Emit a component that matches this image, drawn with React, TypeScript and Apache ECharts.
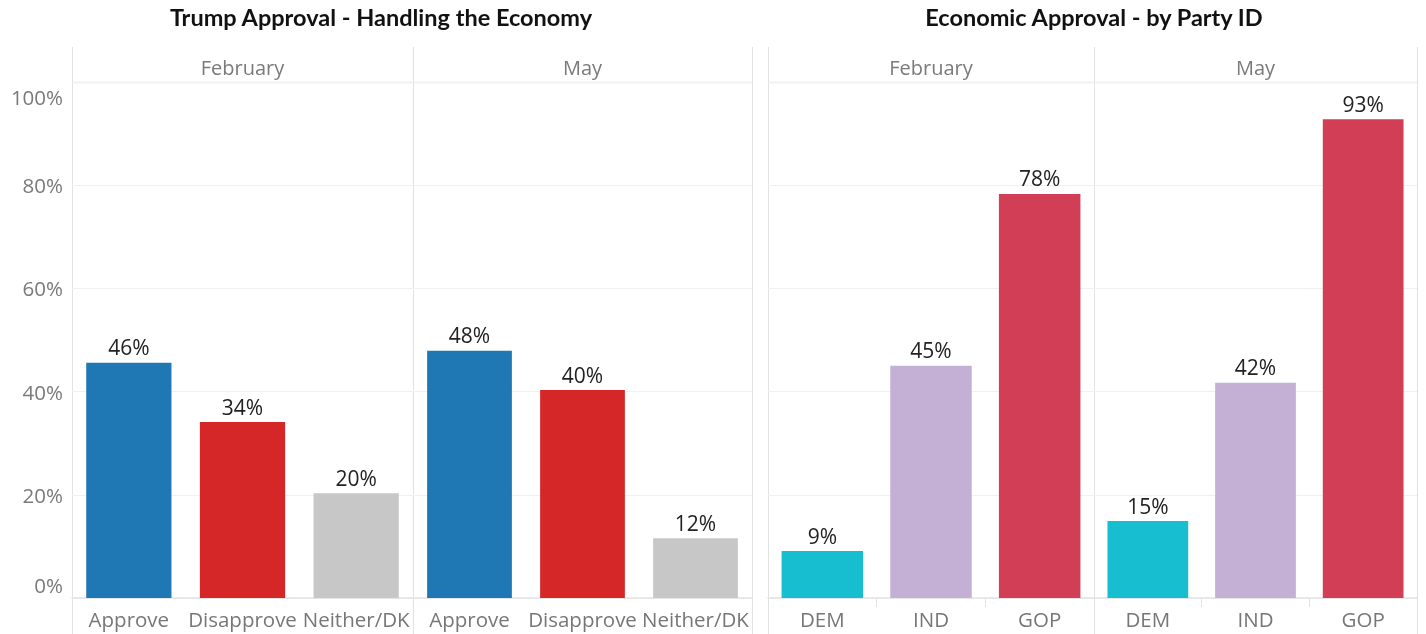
import React, { useEffect, useRef } from 'react';
import * as echarts from 'echarts';

const econCats = ['Approve', 'Disapprove', 'Neither/DK'];
const econFeb = [45.6, 34.1, 20.3];
const econMay = [47.9, 40.3, 11.6];
const econColors = ['#1f77b4', '#d62728', '#c7c7c7'];

const partyCats = ['DEM', 'IND', 'GOP'];
const partyFeb = [9.1, 45.0, 78.3];
const partyMay = [14.9, 41.7, 92.8];
const partyColors = ['#17becf', '#c5b0d5', '#d13e56'];

const yTicks = [0, 20, 40, 60, 80, 100];
const titles = ['Trump Approval - Handling the Economy', 'Economic Approval - by Party ID'];
const months = ['February', 'May'];

const FONT = '"Open Sans", "Noto Sans", sans-serif';
const LINE = '#e2e2e2';

export default function App() {
  const ref = useRef<HTMLDivElement>(null);
  useEffect(() => {
    const chart = echarts.init(ref.current!, null, { renderer: 'svg' });
    const top = 82;
    const bottom = 598;
    const panels = [
      { left: 72, width: 341, cats: econCats, data: econFeb, colors: econColors, header: months[0], showY: true, ticks: false },
      { left: 413, width: 339, cats: econCats, data: econMay, colors: econColors, header: months[1], showY: false, ticks: false },
      { left: 768, width: 326, cats: partyCats, data: partyFeb, colors: partyColors, header: months[0], showY: false, ticks: true },
      { left: 1094, width: 323, cats: partyCats, data: partyMay, colors: partyColors, header: months[1], showY: false, ticks: true },
    ];
    const graphics: any[] = [];
    const vx = [72, 413, 752, 768, 1094, 1417];
    vx.forEach((x) => {
      graphics.push({ type: 'line', silent: true, shape: { x1: x + 0.5, y1: 47, x2: x + 0.5, y2: 634 }, style: { stroke: LINE, lineWidth: 1 } });
    });
    graphics.push({ type: 'line', silent: true, shape: { x1: 72, y1: top + 0.5, x2: 753, y2: top + 0.5 }, style: { stroke: LINE, lineWidth: 1.5 } });
    graphics.push({ type: 'line', silent: true, shape: { x1: 768, y1: top + 0.5, x2: 1418, y2: top + 0.5 }, style: { stroke: LINE, lineWidth: 1.5 } });
    panels.forEach((p) => {
      graphics.push({
        type: 'text', silent: true,
        style: { text: p.header, x: p.left + p.width / 2, y: 67, textAlign: 'center', align: 'center', textVerticalAlign: 'middle', verticalAlign: 'middle', fill: '#7a7a7a', font: `20px ${FONT}` },
      });
    });
    [381, 1094].forEach((x, i) => {
      graphics.push({
        type: 'text', silent: true,
        style: { text: titles[i], x, y: 17, textAlign: 'center', align: 'center', textVerticalAlign: 'middle', verticalAlign: 'middle', fill: '#111', font: `bold 23.5px Lato, "Open Sans", sans-serif` },
      });
    });

    const option: any = {
      animation: false,
      grid: panels.map((p) => ({ left: p.left, width: p.width, top, height: bottom - top, containLabel: false })),
      xAxis: panels.map((p, i) => ({
        type: 'category', gridIndex: i, data: p.cats,
        axisLine: { show: true, lineStyle: { color: LINE, width: 1.5 } },
        axisTick: { show: p.ticks, length: 9, lineStyle: { color: LINE } },
        axisLabel: { interval: 0, color: '#777', fontSize: 20.5, fontFamily: FONT, margin: 10 },
      })),
      yAxis: panels.map((p, i) => ({
        type: 'value', gridIndex: i, min: yTicks[0], max: yTicks[yTicks.length - 1], interval: 20,
        axisLine: { show: false }, axisTick: { show: false },
        splitLine: { show: true, lineStyle: { color: '#f0f0f0', width: 1 } },
        axisLabel: {
          show: p.showY, margin: 9, color: '#7a7a7a', fontSize: 20.5, fontFamily: FONT,
          formatter: (v: number) => (v === 100 ? `{t|${v}%}` : v === 0 ? `{b|${v}%}` : `${v}%`),
          rich: {
            t: { fontSize: 20.5, fontFamily: FONT, color: '#7a7a7a', padding: [30, 0, 0, 0] },
            b: { fontSize: 20.5, fontFamily: FONT, color: '#7a7a7a', padding: [0, 0, 26, 0] },
          },
        },
      })),
      series: panels.map((p, i) => ({
        type: 'bar', xAxisIndex: i, yAxisIndex: i, barCategoryGap: '25%',
        data: p.data.map((v, j) => ({ value: v, itemStyle: { color: p.colors[j] } })),
        label: {
          show: true, position: 'top', distance: 5, color: '#222', fontSize: 21, fontFamily: FONT,
          formatter: (d: any) => `${Math.round(d.value)}%`,
        },
      })),
      graphic: graphics,
    };
    chart.setOption(option);
    return () => chart.dispose();
  }, []);
  return <div ref={ref} style={{ position: 'fixed', left: 0, top: 0, width: 1426, height: 634 }} />;
}
